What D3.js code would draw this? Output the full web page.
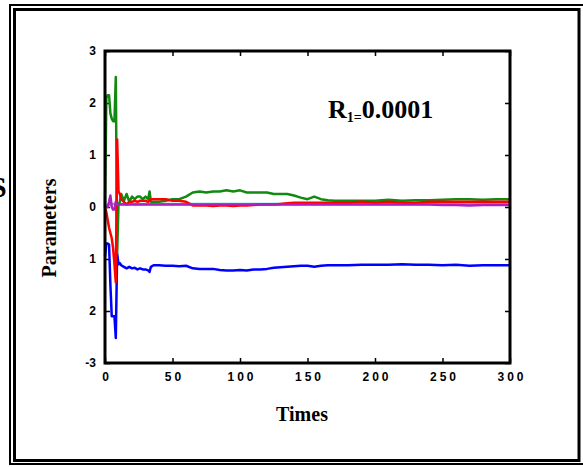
<!DOCTYPE html>
<html><head><meta charset="utf-8">
<script src="https://cdn.jsdelivr.net/npm/d3@7/dist/d3.min.js"></script>
<style>body{margin:0;background:#fff}svg{display:block}</style>
</head><body>
<svg id="c" width="583" height="467"></svg>
<script>
const times = [0,1,2,3,4,5,6,7,8,9,10,11,12,14,16,18,20,22,24,26,28,30,32,33,34,36,40,45,50,55,60,65,70,75,80,85,90,95,100,105,110,115,120,125,130,135,140,145,150,155,160,165,170,180,190,200,210,220,230,240,250,260,270,280,290,300];
const greenVals = [0,2.1,2.15,2.15,1.8,1.7,1.65,1.65,2.5,-0.9,0.05,0.1,0.25,0.12,0.25,0.1,0.2,0.15,0.2,0.2,0.15,0.2,0.15,0.3,0.1,0.1,0.1,0.12,0.15,0.15,0.2,0.28,0.3,0.28,0.3,0.3,0.32,0.3,0.32,0.28,0.28,0.28,0.28,0.25,0.25,0.25,0.22,0.18,0.15,0.2,0.15,0.13,0.12,0.12,0.12,0.12,0.14,0.12,0.13,0.13,0.14,0.15,0.15,0.14,0.15,0.15];
const redVals = [0,-0.1,-0.25,-0.4,-0.5,-0.6,-0.8,-1.1,-1.45,1.3,0.3,0.25,0.15,0.1,0.05,0.1,0.1,0.12,0.1,0.12,0.12,0.12,0.1,0.12,0.15,0.15,0.15,0.15,0.12,0.12,0.1,0.03,0.03,0.03,0.02,0.03,0.03,0.02,0.03,0.03,0.04,0.05,0.05,0.05,0.06,0.07,0.08,0.08,0.08,0.08,0.08,0.08,0.08,0.08,0.1,0.08,0.1,0.08,0.08,0.1,0.1,0.1,0.1,0.1,0.1,0.1];
const blueVals = [-0.95,-0.7,-0.7,-0.72,-1.5,-2.1,-2.1,-2.1,-2.52,-0.9,-1.1,-1.08,-1.12,-1.15,-1.18,-1.15,-1.18,-1.17,-1.2,-1.18,-1.2,-1.2,-1.22,-1.25,-1.15,-1.12,-1.12,-1.13,-1.13,-1.14,-1.13,-1.18,-1.19,-1.19,-1.19,-1.21,-1.22,-1.22,-1.21,-1.22,-1.2,-1.2,-1.19,-1.17,-1.16,-1.15,-1.14,-1.13,-1.13,-1.15,-1.13,-1.12,-1.12,-1.12,-1.11,-1.11,-1.11,-1.1,-1.11,-1.11,-1.12,-1.11,-1.13,-1.12,-1.12,-1.12];
const magentaVals = [0,0,0,0.1,0.22,0,-0.05,-0.05,0.1,0.05,0.05,0.05,0.05,0.05,0.05,0.05,0.05,0.05,0.05,0.05,0.05,0.05,0.05,0.05,0.05,0.05,0.05,0.05,0.05,0.05,0.05,0.05,0.05,0.05,0.05,0.05,0.05,0.05,0.05,0.05,0.05,0.05,0.05,0.05,0.05,0.05,0.05,0.05,0.05,0.05,0.05,0.05,0.05,0.05,0.05,0.05,0.05,0.05,0.05,0.05,0.04,0.04,0.03,0.04,0.04,0.04];
const cyanVals = [0,0.02,0.04,0.05,0.05,0.05,0.06,0.06,0.06,0.06,0.06,0.06,0.06,0.06,0.06,0.06,0.06,0.06,0.06,0.06,0.06,0.06,0.06,0.06,0.06,0.06,0.06,0.06,0.06,0.06,0.06,0.06,0.06,0.06,0.06,0.06,0.06,0.06,0.06,0.06,0.06,0.06,0.06,0.06,0.06,0.06,0.06,0.06,0.06,0.06,0.06,0.06,0.06,0.06,0.06,0.06,0.06,0.06,0.06,0.06,0.06,0.06,0.06,0.06,0.06,0.06];
const xTicks = [0,50,100,150,200,250,300];
const yTicks = [-3,-2,-1,0,1,2,3];
const yTickLabels = ["-3","2","1","0","1","2","3"];

const svg = d3.select("#c");
// double frame
svg.append("rect").attr("x",10).attr("y",5).attr("width",600).attr("height",459)
  .attr("fill","none").attr("stroke","#000").attr("stroke-width",2);
svg.append("rect").attr("x",14.5).attr("y",9.5).attr("width",564.5).attr("height",451)
  .attr("fill","none").attr("stroke","#000").attr("stroke-width",3);
// cut-off glyph at left edge
svg.append("text").attr("x",-10).attr("y",197).attr("font-family","Liberation Serif, Times New Roman, serif")
  .attr("font-weight","bold").attr("font-size",30).text("S");

const x = d3.scaleLinear().domain([0,300]).range([105,510]);
const y = d3.scaleLinear().domain([-3,3]).range([363,51]);

const g = svg.append("g");
const sans = "Liberation Sans Narrow, Arial Narrow, Liberation Sans, Arial, sans-serif";

// ticks inside on all sides
const axB = d3.axisBottom(x).tickValues(xTicks).tickSizeInner(-5).tickSizeOuter(0).tickPadding(9).tickFormat(d3.format("d"));
const axT = d3.axisTop(x).tickValues(xTicks).tickSizeInner(-5).tickSizeOuter(0).tickFormat("");
const axL = d3.axisLeft(y).tickValues(yTicks).tickSizeInner(-5).tickSizeOuter(0).tickPadding(9).tickFormat((d,i)=>yTickLabels[i]);
const axR = d3.axisRight(y).tickValues(yTicks).tickSizeInner(-5).tickSizeOuter(0).tickFormat("");

function style(sel){
  sel.select(".domain").remove();
  sel.selectAll(".tick line").attr("stroke","#000").attr("stroke-width",1.5);
  sel.selectAll("text").attr("font-family",sans).attr("font-weight","bold").attr("font-size",12).attr("fill","#000");
}
g.append("g").attr("transform","translate(0,363)").call(axB).call(style)
  .selectAll("text").attr("letter-spacing","3px").attr("dx","1.5px");
g.append("g").attr("transform","translate(0,51)").call(axT).call(style);
g.append("g").attr("transform","translate(105,0)").call(axL).call(style);
g.append("g").attr("transform","translate(510,0)").call(axR).call(style);

// data lines
const series = [
  {v: cyanVals, c: "#3cc8c8"},
  {v: blueVals, c: "#0000ff"},
  {v: greenVals, c: "#128a12"},
  {v: redVals, c: "#ff0000"},
  {v: magentaVals, c: "#b01ec0"}
];
const line = d3.line().x((d,i)=>x(times[i])).y(d=>y(d));
series.forEach(s=>{
  g.append("path").datum(s.v).attr("d",line).attr("fill","none")
    .attr("stroke",s.c).attr("stroke-width",2.5).attr("stroke-linejoin","round");
});

// plot frame
g.append("rect").attr("x",105).attr("y",51).attr("width",405).attr("height",312)
  .attr("fill","none").attr("stroke","#000").attr("stroke-width",3);

// titles
const serif = "Liberation Serif, Times New Roman, serif";
svg.append("text").attr("x",302).attr("y",421).attr("text-anchor","middle")
  .attr("font-family",serif).attr("font-weight","bold").attr("font-size",20).text("Times");
svg.append("text").attr("transform","translate(56,228) rotate(-90)").attr("text-anchor","middle")
  .attr("font-family",serif).attr("font-weight","bold").attr("font-size",20).text("Parameters");

// annotation
const ann = svg.append("text").attr("x",328).attr("y",118)
  .attr("font-family",serif).attr("font-weight","bold").attr("font-size",26);
ann.append("tspan").text("R");
ann.append("tspan").attr("font-size",14).attr("dy",4).text("1=");
ann.append("tspan").attr("dy",-4).text("0.0001");
</script>
</body></html>
